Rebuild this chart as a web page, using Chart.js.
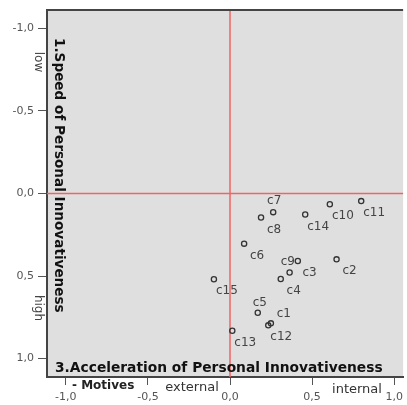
<!DOCTYPE html>
<html>
<head>
<meta charset="utf-8">
<script src="https://cdn.jsdelivr.net/npm/chart.js@4/dist/chart.umd.min.js"></script>
<style>
  html, body { margin: 0; padding: 0; background: #ffffff; }
  #wrap { width: 407px; height: 405px; position: relative; }
</style>
</head>
<body>
<div id="wrap"><canvas id="chart" width="407" height="405"></canvas></div>
<script>
// Motive positions: x = motives (external .. internal), y = speed of personal innovativeness
const categories = ['c1','c2','c3','c4','c5','c6','c7','c8','c9','c10','c11','c12','c13','c14','c15'];
const xValues = [0.249, 0.649, 0.363, 0.309, 0.169, 0.086, 0.263, 0.189, 0.413, 0.608, 0.799, 0.233, 0.014, 0.458, -0.098];
const yValues = [0.787, 0.399, 0.479, 0.518, 0.723, 0.304, 0.113, 0.145, 0.409, 0.065, 0.046, 0.799, 0.832, 0.127, 0.520];
const tickValues = [-1, -0.5, 0, 0.5, 1];
const tickLabels = ['-1,0', '-0,5', '0,0', '0,5', '1,0'];

// where each point's name sits relative to its marker (px)
const labelOffsets = {
  c1: [13, -9], c3: [20, 0], c5: [2, -10], c7: [1, -11], c9: [-10, 1]
};
const defaultOffset = [13, 12];

const points = categories.map((c, i) => ({ x: xValues[i], y: yValues[i], name: c }));

const quadrantPlugin = {
  id: 'quadrant',
  beforeDraw(chart) {
    const { ctx, chartArea: a } = chart;
    ctx.save();
    ctx.fillStyle = '#dfdfdf';
    ctx.fillRect(a.left, a.top, a.right - a.left, a.bottom - a.top);
    ctx.restore();
  },
  beforeDatasetsDraw(chart) {
    const { ctx, chartArea: a, scales } = chart;
    const x0 = scales.x.getPixelForValue(0);
    const y0 = scales.y.getPixelForValue(0);
    ctx.save();
    ctx.strokeStyle = '#f26464';
    ctx.lineWidth = 1.5;
    ctx.beginPath();
    ctx.moveTo(x0, a.top); ctx.lineTo(x0, a.bottom);
    ctx.moveTo(a.left, y0); ctx.lineTo(a.right, y0);
    ctx.stroke();
    // top frame line
    ctx.strokeStyle = '#444';
    ctx.lineWidth = 2;
    ctx.beginPath();
    ctx.moveTo(a.left - 1, a.top); ctx.lineTo(a.right, a.top);
    ctx.stroke();
    ctx.restore();
  },
  afterDatasetsDraw(chart) {
    const { ctx, chartArea: a } = chart;
    const meta = chart.getDatasetMeta(0);
    ctx.save();
    // point names
    ctx.font = '12px "DejaVu Sans"';
    ctx.fillStyle = '#444';
    ctx.textAlign = 'center';
    ctx.textBaseline = 'middle';
    meta.data.forEach((el, i) => {
      const name = points[i].name;
      const off = labelOffsets[name] || defaultOffset;
      ctx.fillText(name, el.x + off[0], el.y + off[1]);
    });

    // dimension titles inside the plot
    ctx.fillStyle = '#111';
    ctx.font = 'bold 13.8px "DejaVu Sans"';
    ctx.textAlign = 'left';
    ctx.textBaseline = 'alphabetic';
    ctx.fillText('3.Acceleration of Personal Innovativeness', a.left + 8, a.bottom - 5);

    ctx.save();
    ctx.translate(a.left + 5, a.top + 28);
    ctx.rotate(Math.PI / 2);
    ctx.font = 'bold 13.6px "DejaVu Sans"';
    ctx.textBaseline = 'bottom';
    ctx.fillText('1.Speed of Personal Innovativeness', 0, 0);
    ctx.restore();

    // side annotations on the y axis
    ctx.fillStyle = '#444';
    ctx.font = '12px "DejaVu Sans"';
    ctx.textAlign = 'center';
    ctx.textBaseline = 'middle';
    [['low', 62], ['high', 308]].forEach(([t, y]) => {
      ctx.save();
      ctx.translate(38, y);
      ctx.rotate(Math.PI / 2);
      ctx.fillText(t, 0, 0);
      ctx.restore();
    });

    // annotations under the x axis
    ctx.fillStyle = '#222';
    ctx.font = 'bold 12px "DejaVu Sans"';
    ctx.textAlign = 'left';
    ctx.fillText('- Motives', 72, 386);
    ctx.fillStyle = '#333';
    ctx.font = '13px "DejaVu Sans"';
    ctx.textAlign = 'center';
    ctx.fillText('external', 192, 388);
    ctx.fillText('internal', 357, 390);
    ctx.restore();
  }
};

const tickFont = { family: 'DejaVu Sans', size: 11 };

new Chart(document.getElementById('chart'), {
  type: 'scatter',
  data: {
    datasets: [{
      data: points,
      pointRadius: 2.6,
      pointHoverRadius: 2.6,
      pointBorderWidth: 1.3,
      pointBorderColor: '#333',
      pointBackgroundColor: 'rgba(0,0,0,0)'
    }]
  },
  options: {
    responsive: false,
    animation: false,
    events: [],
    layout: { padding: { top: 10, right: -2, left: 0, bottom: 0 } },
    plugins: { legend: { display: false }, tooltip: { enabled: false } },
    scales: {
      x: {
        type: 'linear',
        min: -1.1145,
        max: 1.0542,
        afterFit(scale) { scale.height = 28; scale.paddingRight = 0; scale.paddingLeft = 0; },
        afterBuildTicks(scale) { scale.ticks = tickValues.map(v => ({ value: v })); },
        grid: { drawOnChartArea: false, drawTicks: true, tickLength: 8, color: '#555' },
        border: { display: true, color: '#444', width: 2 },
        ticks: {
          autoSkip: false, maxRotation: 0, padding: 6,
          color: '#555', font: tickFont,
          callback: (v) => tickLabels[tickValues.indexOf(v)]
        }
      },
      y: {
        type: 'linear',
        reverse: true,
        min: -1.112,
        max: 1.112,
        afterFit(scale) { scale.width = 47; scale.paddingTop = 0; scale.paddingBottom = 0; },
        afterBuildTicks(scale) { scale.ticks = tickValues.map(v => ({ value: v })); },
        grid: { drawOnChartArea: false, drawTicks: true, tickLength: 9, color: '#555' },
        border: { display: true, color: '#444', width: 2 },
        ticks: {
          autoSkip: false, padding: 4,
          color: '#555', font: tickFont,
          callback: (v) => tickLabels[tickValues.indexOf(v)]
        }
      }
    }
  },
  plugins: [quadrantPlugin]
});
</script>
</body>
</html>
